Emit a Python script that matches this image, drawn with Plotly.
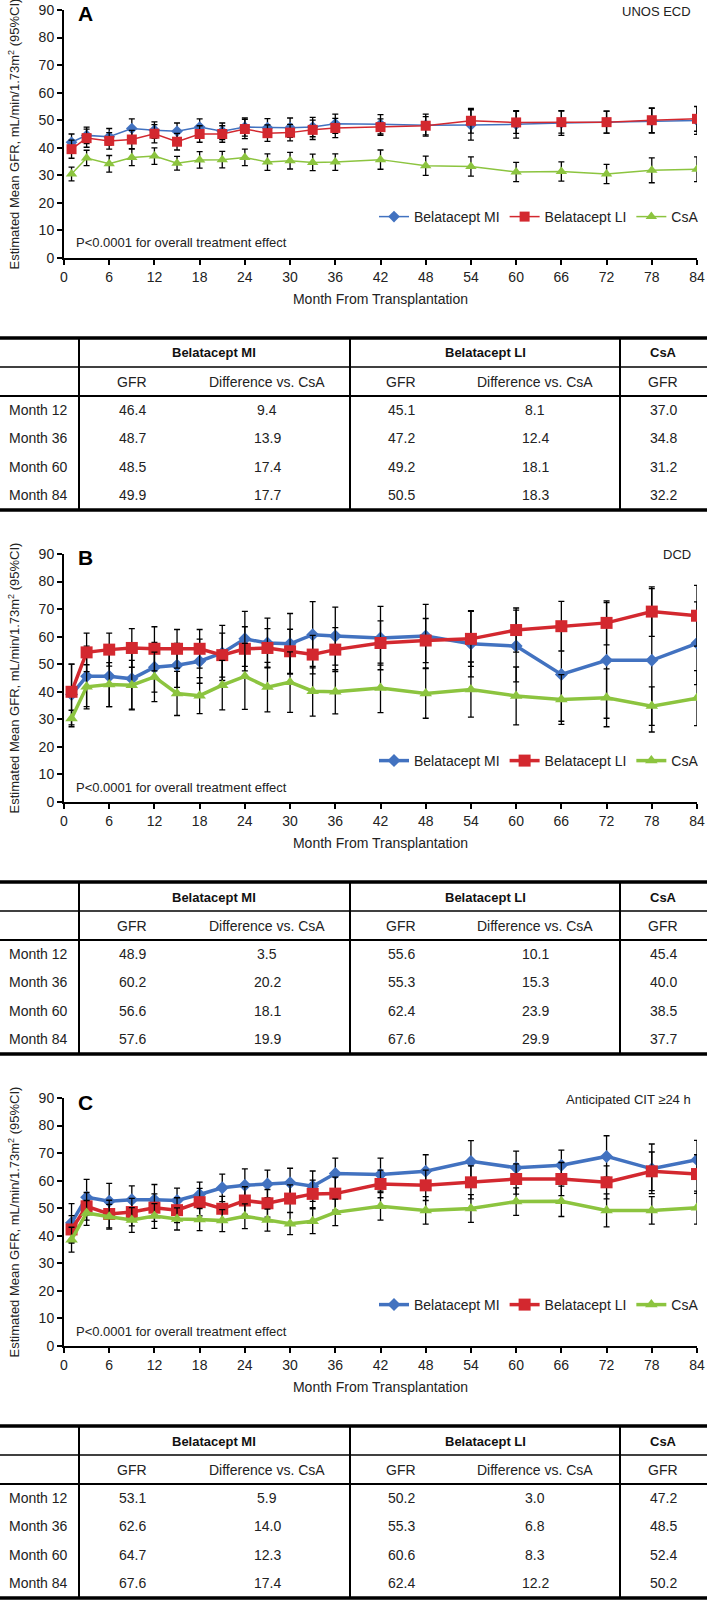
import plotly.graph_objects as go

W, H = 709, 1601
FONT = "Liberation Sans Narrow, Arial Narrow, Liberation Sans, Arial, sans-serif"

#%% Datos

months = [1, 3, 6, 9, 12, 15, 18, 21, 24, 27, 30, 33, 36, 42, 48, 54, 60, 66, 72, 78, 84]
x_ticks = [0, 6, 12, 18, 24, 30, 36, 42, 48, 54, 60, 66, 72, 78, 84]
series_names = ["Belatacept MI", "Belatacept LI", "CsA"]

# Panel A - UNOS ECD
a_mi = [42, 44.5, 44, 47, 46.4, 46, 47.5, 46, 47.5, 47.3, 47.3, 47.5, 48.7, 48.5, 48.2, 48.3, 48.5, 49, 49.3, 49.8, 49.9]
a_mi_err = [3, 3, 3, 3.5, 3, 3, 3, 3, 3.3, 3.3, 3.5, 3.5, 3.5, 3.5, 4, 5.5, 5, 4.5, 4, 4.5, 5]
a_li = [39.5, 43.5, 42.5, 43, 45.1, 42.2, 45, 45, 46.8, 45.3, 45.5, 46.5, 47.2, 47.5, 48, 49.8, 49.2, 49.3, 49.3, 50, 50.5]
a_li_err = [3.3, 3.3, 3, 3.3, 3.3, 3, 3, 3, 3.5, 3, 3, 3.5, 3.5, 3, 3.3, 4.5, 4, 4, 4, 4.5, 4.5]
a_csa = [30.5, 36.3, 34.2, 36.5, 37.0, 34.4, 35.6, 35.7, 36.5, 34.8, 35.3, 34.7, 34.8, 35.7, 33.5, 33.2, 31.2, 31.4, 30.5, 31.8, 32.2]
a_csa_err = [2.5, 2.8, 3, 3, 3, 2.5, 3, 3, 3, 3, 3, 3, 3, 3.5, 3.5, 3.5, 3.5, 3.5, 3.5, 4.5, 4.5]

# Panel B - DCD
b_mi = [39, 45.6, 45.6, 44.7, 48.9, 49.6, 51.1, 54.1, 59.2, 57.7, 57.4, 60.7, 60.2, 59.5, 60.2, 57.4, 56.6, 46.3, 51.4, 51.4, 57.6]
b_mi_err = [11, 11, 11, 11, 9, 8, 8, 10, 10, 9, 11, 12, 10.5, 11.5, 11.5, 12, 13, 17, 21, 26, 15]
b_li = [40, 54.3, 55.3, 55.9, 55.6, 55.6, 55.6, 53.3, 55.6, 55.9, 54.7, 53.5, 55.3, 57.7, 58.6, 59.2, 62.4, 63.8, 65.0, 69.1, 67.6]
b_li_err = [10, 7, 6, 7, 8, 7, 7, 8, 8, 7, 8, 7, 8, 8, 8, 10, 8, 9, 8, 9, 11]
b_csa = [30.3, 41.8, 42.6, 42.4, 45.4, 39.4, 38.6, 42.4, 45.6, 41.7, 43.5, 40.2, 40.0, 41.4, 39.4, 40.8, 38.5, 37.2, 37.8, 34.8, 37.7]
b_csa_err = [3, 8, 8, 9, 9, 8, 6.5, 9, 12, 9, 11, 9, 8, 9, 9, 10, 10.5, 9, 10.5, 7, 10]

# Panel C - Anticipated CIT >=24 h
c_mi = [44.7, 54.0, 52.5, 53.1, 53.1, 52.8, 55.0, 57.4, 58.3, 58.8, 59.2, 58.0, 62.6, 62.2, 63.4, 67.0, 64.7, 65.6, 68.8, 64.3, 67.6]
c_mi_err = [7, 6.5, 6.5, 5, 5.5, 4.5, 4.5, 5, 6, 5, 5.3, 5.5, 5.6, 6, 6, 7.5, 6, 5.5, 7.5, 9, 7]
c_li = [42.3, 50.7, 47.9, 48.6, 50.2, 49.3, 52.2, 49.8, 52.8, 51.8, 53.5, 55.2, 55.3, 58.8, 58.3, 59.4, 60.6, 60.6, 59.4, 63.4, 62.4]
c_li_err = [5, 5, 5, 5, 5, 4.5, 5, 4.5, 5, 5, 5, 5, 6, 5, 5.5, 6, 5.5, 6, 6, 7, 7]
c_csa = [38.6, 48.3, 46.9, 45.7, 47.2, 46.1, 45.9, 45.5, 47.1, 45.7, 44.4, 45.3, 48.5, 50.7, 49.2, 49.9, 52.4, 52.5, 49.2, 49.2, 50.2]
c_csa_err = [4.5, 4.5, 4.5, 4.5, 4.5, 4, 4, 4, 4.5, 4, 4, 4.5, 4.8, 5, 5, 5, 5, 5.5, 6, 5, 6]

# Tablas
tbl_rows = ["Month 12", "Month 36", "Month 60", "Month 84"]
tbl_groups = ["Belatacept MI", "Belatacept LI", "CsA"]
tbl_cols = ["GFR", "Difference vs. CsA", "GFR", "Difference vs. CsA", "GFR"]

a_tbl_mi_gfr = ["46.4", "48.7", "48.5", "49.9"]
a_tbl_mi_diff = ["9.4", "13.9", "17.4", "17.7"]
a_tbl_li_gfr = ["45.1", "47.2", "49.2", "50.5"]
a_tbl_li_diff = ["8.1", "12.4", "18.1", "18.3"]
a_tbl_csa_gfr = ["37.0", "34.8", "31.2", "32.2"]

b_tbl_mi_gfr = ["48.9", "60.2", "56.6", "57.6"]
b_tbl_mi_diff = ["3.5", "20.2", "18.1", "19.9"]
b_tbl_li_gfr = ["55.6", "55.3", "62.4", "67.6"]
b_tbl_li_diff = ["10.1", "15.3", "23.9", "29.9"]
b_tbl_csa_gfr = ["45.4", "40.0", "38.5", "37.7"]

c_tbl_mi_gfr = ["53.1", "62.6", "64.7", "67.6"]
c_tbl_mi_diff = ["5.9", "14.0", "12.3", "17.4"]
c_tbl_li_gfr = ["50.2", "55.3", "60.6", "62.4"]
c_tbl_li_diff = ["3.0", "6.8", "8.3", "12.2"]
c_tbl_csa_gfr = ["47.2", "48.5", "52.4", "50.2"]

panels = [
    dict(letter="A", subtitle="UNOS ECD",
         series=[(a_mi, a_mi_err), (a_li, a_li_err), (a_csa, a_csa_err)],
         table=[a_tbl_mi_gfr, a_tbl_mi_diff, a_tbl_li_gfr, a_tbl_li_diff, a_tbl_csa_gfr], thick=False),
    dict(letter="B", subtitle="DCD",
         series=[(b_mi, b_mi_err), (b_li, b_li_err), (b_csa, b_csa_err)],
         table=[b_tbl_mi_gfr, b_tbl_mi_diff, b_tbl_li_gfr, b_tbl_li_diff, b_tbl_csa_gfr], thick=True),
    dict(letter="C", subtitle="Anticipated CIT ≥24 h",
         series=[(c_mi, c_mi_err), (c_li, c_li_err), (c_csa, c_csa_err)],
         table=[c_tbl_mi_gfr, c_tbl_mi_diff, c_tbl_li_gfr, c_tbl_li_diff, c_tbl_csa_gfr], thick=True),
]

colors = ["#4272C0", "#D3282F", "#8CC43F"]
symbols = ["diamond", "square", "triangle-up"]

#%% Geometria (pixeles)

def px(x):
    return x / W

def py(y):
    return 1 - y / H

STEP = 544          # distancia vertical entre paneles
PLOT_TOP, PLOT_BOT = 10, 258
X_LEFT, X_RIGHT = 64, 697
TBL_TOP = 338
tbl_vlines = [79, 350, 620]
tbl_xcenters = [132, 267, 401, 535, 663]
tbl_group_x = [214, 485, 663]

fig = go.Figure()
annotations = []
shapes = []
layout_axes = {}

for i, p in enumerate(panels):
    off = STEP * i
    sfx = "" if i == 0 else str(i + 1)
    leg = "legend" + sfx

    lw = 3.5 if p["thick"] else 1.5
    sizes = [10, 12, 11] if p["thick"] else [9, 10, 10]

    for k, (vals, err) in enumerate(p["series"]):
        fig.add_trace(go.Scatter(
            x=months, y=vals,
            error_y=dict(type="data", array=err, color="black", thickness=1.3, width=3),
            mode="lines+markers",
            line=dict(color=colors[k], width=lw),
            marker=dict(symbol=symbols[k], size=sizes[k], color=colors[k]),
            name=series_names[k],
            xaxis="x" + sfx, yaxis="y" + sfx, legend=leg,
        ))

    axis_common = dict(showline=True, linewidth=2, linecolor="black", ticks="outside",
                       ticklen=5, tickwidth=1.5, tickcolor="black", showgrid=False,
                       zeroline=False, automargin=False,
                       tickfont=dict(family=FONT, size=14, color="#222"))
    layout_axes["xaxis" + sfx] = dict(
        axis_common, domain=[px(X_LEFT), px(X_RIGHT)], range=[0, 84],
        tickvals=x_ticks, anchor="y" + sfx,
        title=dict(text="Month From Transplantation", standoff=10,
                   font=dict(family=FONT, size=14, color="#222")))
    layout_axes["yaxis" + sfx] = dict(
        axis_common, domain=[py(PLOT_BOT + off), py(PLOT_TOP + off)], range=[0, 90],
        dtick=10, anchor="x" + sfx,
        title=dict(text="Estimated Mean GFR, mL/min/1.73m<sup>2</sup> (95%CI)", standoff=16,
                   font=dict(family=FONT, size=13, color="#222")))

    layout_axes[leg] = dict(orientation="h", x=px(704), xanchor="right",
                            y=py(217 + off), yanchor="middle",
                            bgcolor="rgba(0,0,0,0)",
                            font=dict(family=FONT, size=14, color="#222"))

    # textos del grafico
    annotations.append(dict(text="<b>" + p["letter"] + "</b>", x=px(76), y=py(14 + off),
                            xref="paper", yref="paper", xanchor="left", yanchor="middle",
                            showarrow=False, font=dict(family="Liberation Sans, Arial", size=21, color="black")))
    annotations.append(dict(text=p["subtitle"], x=px(693), y=py(11 + off),
                            xref="paper", yref="paper", xanchor="right", yanchor="middle",
                            showarrow=False, font=dict(family=FONT, size=13, color="#222")))
    annotations.append(dict(text="P<0.0001 for overall treatment effect", x=px(74), y=py(243 + off),
                            xref="paper", yref="paper", xanchor="left", yanchor="middle",
                            showarrow=False, font=dict(family=FONT, size=13, color="#222")))

    # tabla
    T = TBL_TOP + off
    line = dict(color="black")
    shapes.append(dict(type="line", xref="paper", yref="paper", x0=0, x1=px(707),
                       y0=py(T), y1=py(T), line=dict(line, width=3.5)))
    shapes.append(dict(type="line", xref="paper", yref="paper", x0=0, x1=px(707),
                       y0=py(T + 29), y1=py(T + 29), line=dict(line, width=1.5)))
    shapes.append(dict(type="line", xref="paper", yref="paper", x0=0, x1=px(707),
                       y0=py(T + 58), y1=py(T + 58), line=dict(line, width=2)))
    shapes.append(dict(type="line", xref="paper", yref="paper", x0=0, x1=px(707),
                       y0=py(T + 172), y1=py(T + 172), line=dict(line, width=3.5)))
    for vx in tbl_vlines:
        shapes.append(dict(type="line", xref="paper", yref="paper", x0=px(vx), x1=px(vx),
                           y0=py(T), y1=py(T + 172), line=dict(line, width=2)))

    for g, gx in zip(tbl_groups, tbl_group_x):
        annotations.append(dict(text="<b>" + g + "</b>", x=px(gx), y=py(T + 15),
                                xref="paper", yref="paper", xanchor="center", yanchor="middle",
                                showarrow=False, font=dict(family=FONT, size=13, color="#111")))
    for c, cx in zip(tbl_cols, tbl_xcenters):
        annotations.append(dict(text=c, x=px(cx), y=py(T + 44),
                                xref="paper", yref="paper", xanchor="center", yanchor="middle",
                                showarrow=False, font=dict(family=FONT, size=14, color="#222")))
    row_y = [T + 72, T + 100, T + 129, T + 157]
    for r, (lab, ry) in enumerate(zip(tbl_rows, row_y)):
        annotations.append(dict(text=lab, x=px(7), y=py(ry),
                                xref="paper", yref="paper", xanchor="left", yanchor="middle",
                                showarrow=False, font=dict(family=FONT, size=14, color="#222")))
        for col, cx in zip(p["table"], tbl_xcenters):
            annotations.append(dict(text=col[r], x=px(cx), y=py(ry),
                                    xref="paper", yref="paper", xanchor="center", yanchor="middle",
                                    showarrow=False, font=dict(family=FONT, size=14, color="#222")))

fig.update_layout(
    width=W, height=H,
    margin=dict(l=0, r=0, t=0, b=0),
    paper_bgcolor="white", plot_bgcolor="white",
    font=dict(family=FONT, size=14, color="#222"),
    annotations=annotations,
    shapes=shapes,
    **layout_axes,
)

fig.write_html("out.html", config={"displayModeBar": False},
               post_script="document.body.style.margin='0';document.body.style.overflow='hidden';")
